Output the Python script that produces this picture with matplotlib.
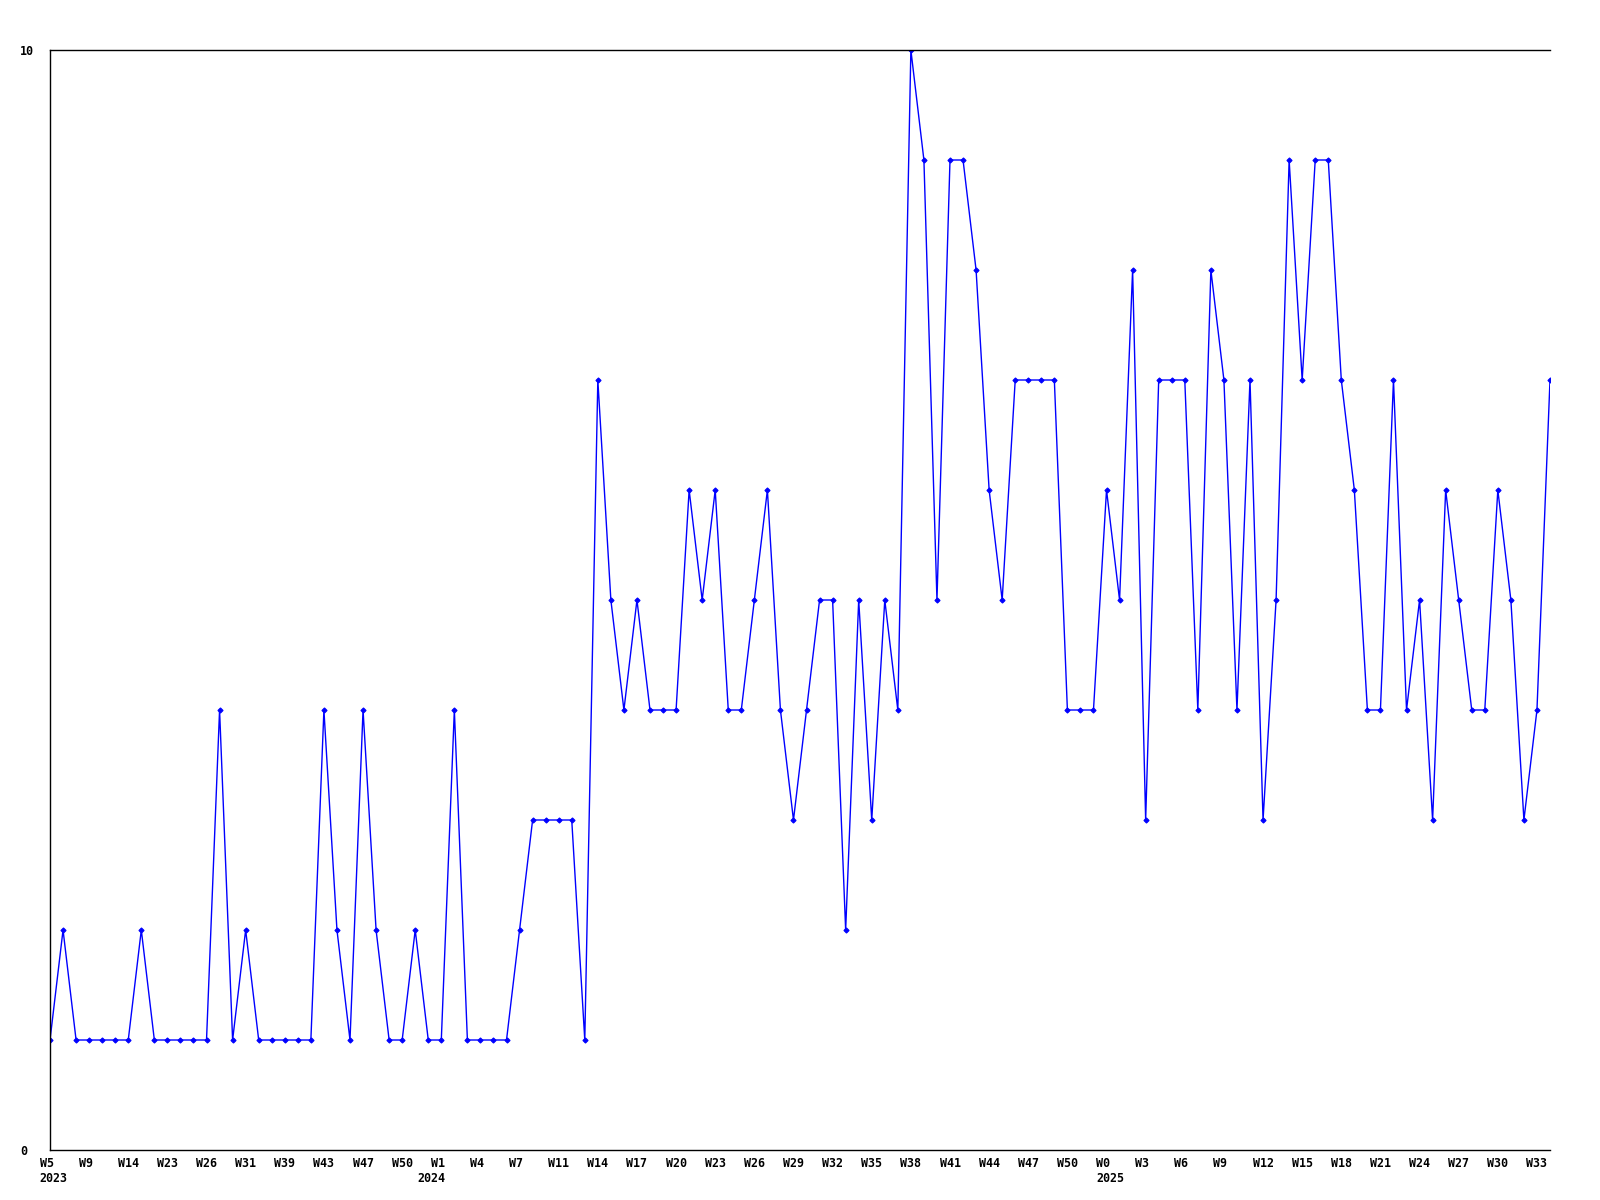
import matplotlib
matplotlib.use("Agg")
import matplotlib.pyplot as plt
import matplotlib.transforms as mtransforms

values = [1, 2, 1, 1, 1, 1, 1, 2, 1, 1,
          1, 1, 1, 4, 1, 2, 1, 1, 1, 1,
          1, 4, 2, 1, 4, 2, 1, 1, 2, 1,
          1, 4, 1, 1, 1, 1, 2, 3, 3, 3,
          3, 1, 7, 5, 4, 5, 4, 4, 4, 6,
          5, 6, 4, 4, 5, 6, 4, 3, 4, 5,
          5, 2, 5, 3, 5, 4, 10, 9, 5, 9,
          9, 8, 6, 5, 7, 7, 7, 7, 4, 4,
          4, 6, 5, 8, 3, 7, 7, 7, 4, 8,
          7, 4, 7, 3, 5, 9, 7, 9, 9, 7,
          6, 4, 4, 7, 4, 5, 3, 6, 5, 4,
          4, 6, 5, 3, 4, 7]

week_labels = ["W5", "W9", "W14", "W23", "W26", "W31", "W39", "W43", "W47", "W50",
               "W1", "W4", "W7", "W11", "W14", "W17", "W20", "W23", "W26", "W29",
               "W32", "W35", "W38", "W41", "W44", "W47", "W50",
               "W0", "W3", "W6", "W9", "W12", "W15", "W18", "W21", "W24", "W27", "W30", "W33"]
label_step = 3
year_labels = ["2023", "2024", "2025"]
year_index = [0, 29, 81]

fig = plt.figure(figsize=(16, 12), dpi=100)
ax = fig.add_axes([50/1600, 50/1200, 1500/1600, 1100/1200])

x = list(range(len(values)))
ax.plot(x, values, color=(0, 0, 1), linewidth=1, marker='D', markersize=2.6,
        markeredgewidth=0.8, markerfacecolor=(0, 0, 1), markeredgecolor=(0, 0, 1))

ax.set_xlim(0, len(values) - 1)
ax.set_ylim(0, 10)

font = dict(family="DejaVu Sans Mono", weight="bold", size=8.4)

ax.xaxis.remove_overlapping_locs = False
ticks = [i * label_step for i in range(len(week_labels))]
ax.set_xticks(ticks)
ax.set_xticklabels(week_labels, fontdict=font, va="top", ha="left")
ax.set_xticks(year_index, minor=True)
ax.set_xticklabels(year_labels, minor=True, fontdict=font, va="top", ha="left")
ax.tick_params(axis="x", which="major", length=0, pad=5.0)
ax.tick_params(axis="x", which="minor", length=0, pad=16.0)
offset = mtransforms.ScaledTranslation(-10.5 / 100, 0, fig.dpi_scale_trans)
for lab in ax.get_xticklabels(which="both"):
    lab.set_transform(lab.get_transform() + offset)

ax.set_yticks([0, 10])
ax.set_yticklabels(["0", "10"], fontdict=font, ha="left")
ax.tick_params(axis="y", length=0, pad=21.6)

for s in ["left", "bottom", "top"]:
    ax.spines[s].set_color("black")
    ax.spines[s].set_linewidth(1)
ax.spines["right"].set_visible(False)

fig.savefig("out.png", dpi=100, facecolor="white")
